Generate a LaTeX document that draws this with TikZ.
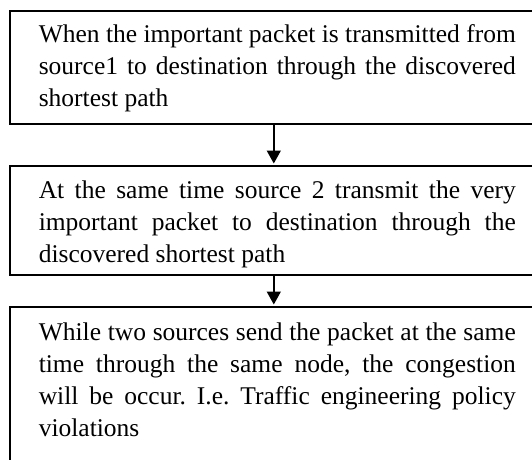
\documentclass[tikz,border=0pt]{standalone}
\usepackage{fontspec}
\setmainfont{Liberation Serif}
\usetikzlibrary{arrows.meta}

% strut helpers: height above the first baseline, depth below the last one
\newcommand{\topstrut}[1]{\rule{0pt}{#1}}
\newcommand{\botstrut}[1]{\rule[-#1]{0pt}{#1}}

\begin{document}
\begin{tikzpicture}[x=1pt, y=-1pt,
  stepbox/.style={draw, line width=1.6pt, anchor=north west,
    inner xsep=29pt, inner ysep=0pt, text width=477pt, align=justify,
    font=\fontsize{25.5}{32}\selectfont\frenchspacing},
  arr/.style={line width=1.6pt, -{Triangle[width=14pt,length=13pt]},
    shorten >=1.5pt}]
  \useasboundingbox (0,0) rectangle (532,459);
  \clip (0,0) rectangle (532,459);

  \node[stepbox] (b1) at (9,10) {\topstrut{32pt}When the important packet is
    transmitted from\linebreak source1 to destination through the
    discovered\linebreak shortest path\botstrut{17pt}};

  \node[stepbox] (b2) at (9,165) {\topstrut{33pt}At the same time source 2
    transmit the very\linebreak important packet to destination through
    the\linebreak discovered shortest path\botstrut{12pt}};

  \node[stepbox] (b3) at (9,306) {\topstrut{34pt}While two sources send the
    packet at the same\linebreak time through the same node, the
    congestion\linebreak will be occur. I.e. Traffic engineering
    policy\linebreak violations\botstrut{40pt}};

  \draw[arr] ([xshift=-3.5pt]b1.south) -- ([xshift=-3.5pt]b2.north);
  \draw[arr] ([xshift=-3.5pt]b2.south) -- ([xshift=-3.5pt]b3.north);
\end{tikzpicture}
\end{document}
